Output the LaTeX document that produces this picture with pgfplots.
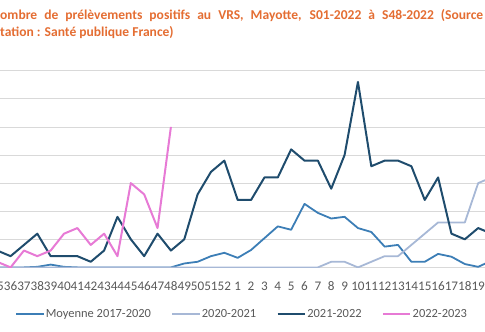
\documentclass[border=0pt]{standalone}
\usepackage{fontspec}
\setmainfont{Carlito}
\usepackage{pgfplots}
\pgfplotsset{compat=1.18}
\definecolor{cMoy}{HTML}{3C7EB6}
\definecolor{cA}{HTML}{A7B8D6}
\definecolor{cB}{HTML}{1F4C6D}
\definecolor{cC}{HTML}{E77AD5}
\definecolor{ctitle}{HTML}{E46D32}
\definecolor{ctext}{HTML}{595959}
\definecolor{cgrid}{HTML}{D9D9D9}
\begin{document}
\begin{tikzpicture}[x=1bp,y=1bp]
\useasboundingbox (0,0) rectangle (485,331);
\clip (0,0) rectangle (485,331);
\node[anchor=base west, inner sep=0, text=ctitle, font=\bfseries\fontsize{13.6}{16}\selectfont] at (0,311.7) {\makebox[483bp][s]{ombre de prélèvements positifs au VRS, Mayotte, S01-2022 à S48-2022 (Source}};
\node[anchor=base west, inner sep=0, text=ctitle, font=\bfseries\fontsize{13.6}{16}\selectfont] at (0,294.3) {tation : Santé publique France)};
\begin{axis}[
  at={(-29.5bp,63.6bp)}, anchor=south west,
  scale only axis, width=547.76bp, height=196.7bp,
  xmin=-3, xmax=38, ymin=0, ymax=35,
  axis line style={draw=none},
  major tick length=0,
  ytick={0,5,...,35}, yticklabels={},
  ymajorgrids, grid style={cgrid, line width=0.8bp},
  xtick={-2,...,37},
  xticklabels={34,35,36,37,38,39,40,41,42,43,44,45,46,47,48,49,50,51,52,1,2,3,4,5,6,7,8,9,10,11,12,13,14,15,16,17,18,19,20,21},
  xticklabel style={font=\fontsize{13.2}{13.2}\selectfont, text=ctext, yshift=-11bp},
  /pgf/number format/assume math mode=true,
  legend columns=4,
  legend cell align=left,
  legend style={draw=none, fill=none, at={(axis description cs:0.0812,-0.238)}, anchor=west, inner sep=0,
    font=\fontsize{12.5}{12.5}\selectfont, text=ctext,
    nodes={inner sep=1.3bp},
    /tikz/every even column/.append style={column sep=19bp}},
  legend image code/.code={\draw[#1] (0bp,0bp) -- (27.5bp,0bp);},
  every axis plot/.append style={line join=round, mark=none},
]
\addplot[cMoy, line width=1.8bp] coordinates {
(-1,0) (0,0) (1,0) (2,0.1) (3,0.5) (4,0.1) (5,0) (6,0) (7,0) (8,0) (9,0) (10,0) (11,0) (12,0)
(13,0.7) (14,1.0) (15,2.0) (16,2.6) (17,1.7) (18,3.1) (19,5.2) (20,7.3) (21,6.7) (22,11.3)
(23,9.7) (24,8.7) (25,9.0) (26,7.0) (27,6.3) (28,3.7) (29,4.0) (30,1.0) (31,1.0) (32,2.4)
(33,1.9) (34,0.6) (35,0.1) (36,1.2)};
\addlegendentry{Moyenne 2017-2020}
\addplot[cA, line width=1.8bp] coordinates {
(-1,0) (0,0) (1,0) (2,0) (3,0) (4,0) (5,0) (6,0) (7,0) (8,0) (9,0) (10,0) (11,0) (12,0)
(13,0) (14,0) (15,0) (16,0) (17,0) (18,0) (19,0) (20,0) (21,0) (22,0) (23,0)
(24,1) (25,1) (26,0) (27,1) (28,2) (29,2) (30,4) (31,6) (32,8) (33,8) (34,8) (35,15) (36,16)};
\addlegendentry{2020-2021}
\addplot[cB, line width=2bp] coordinates {
(-1,3) (0,2) (1,4) (2,6) (3,2) (4,2) (5,2) (6,1) (7,3) (8,9) (9,5) (10,2) (11,6) (12,3)
(13,5) (14,13) (15,17) (16,19) (17,12) (18,12) (19,16) (20,16) (21,21) (22,19) (23,19)
(24,14) (25,20) (26,33) (27,18) (28,19) (29,19) (30,18) (31,12) (32,16) (33,6) (34,5) (35,7) (36,6)};
\addlegendentry{2021-2022}
\addplot[cC, line width=2bp] coordinates {
(-1,1) (0,0) (1,3) (2,2) (3,3) (4,6) (5,7) (6,4) (7,6) (8,2) (9,15) (10,13) (11,7) (12,25)};
\addlegendentry{2022-2023}
\end{axis}
\end{tikzpicture}
\end{document}
